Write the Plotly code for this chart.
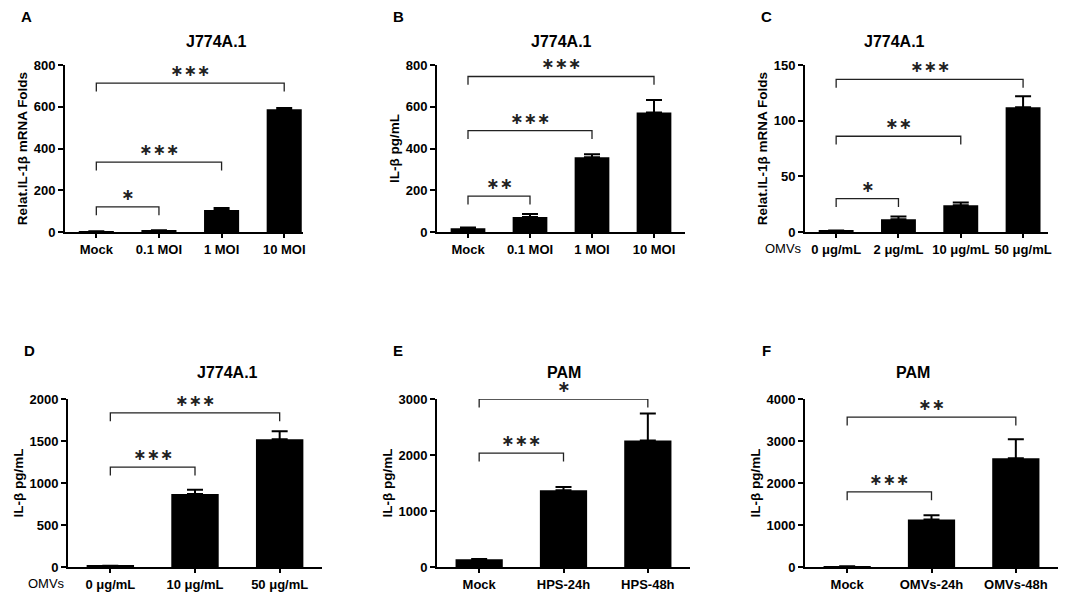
import plotly.graph_objects as go
from plotly.subplots import make_subplots

# Panel A - J774A.1, IL-1b mRNA after infection
a_cats = ['Mock', '0.1 MOI', '1 MOI', '10 MOI']
a_vals = [2, 6, 105, 588]
a_errs = [1, 2, 10, 6]

# Panel B - J774A.1, IL-b secretion after infection
b_cats = ['Mock', '0.1 MOI', '1 MOI', '10 MOI']
b_vals = [18, 72, 358, 572]
b_errs = [3, 14, 14, 60]

# Panel C - J774A.1, IL-1b mRNA after OMVs
c_cats = ['0 μg/mL', '2 μg/mL', '10 μg/mL', '50 μg/mL']
c_vals = [1, 11.5, 24, 112]
c_errs = [0.3, 2.5, 2.5, 10]

# Panel D - J774A.1, IL-b secretion after OMVs
d_cats = ['0 μg/mL', '10 μg/mL', '50 μg/mL']
d_vals = [12, 870, 1520]
d_errs = [3, 50, 95]

# Panel E - PAM, HPS infection
e_cats = ['Mock', 'HPS-24h', 'HPS-48h']
e_vals = [140, 1370, 2260]
e_errs = [5, 60, 480]

# Panel F - PAM, OMVs
f_cats = ['Mock', 'OMVs-24h', 'OMVs-48h']
f_vals = [15, 1130, 2590]
f_errs = [3, 100, 450]

# significance brackets: (from, to, height, label)
a_sig = [(0, 1, 120, '∗'), (0, 2, 335, '∗∗∗'), (0, 3, 713, '∗∗∗')]
b_sig = [(0, 1, 172, '∗∗'), (0, 2, 486, '∗∗∗'), (0, 3, 745, '∗∗∗')]
c_sig = [(0, 1, 30, '∗'), (0, 2, 86, '∗∗'), (0, 3, 137, '∗∗∗')]
d_sig = [(0, 1, 1190, '∗∗∗'), (0, 2, 1835, '∗∗∗')]
e_sig = [(0, 1, 2035, '∗∗∗'), (0, 2, 3000, '∗')]
f_sig = [(0, 1, 1790, '∗∗∗'), (0, 2, 3570, '∗∗')]

panels = [
    dict(letter='A', title='J774A.1', ytitle='Relat.IL-1β mRNA Folds',
         cats=a_cats, vals=a_vals, errs=a_errs, sig=a_sig,
         yrange=[0, 800], dtick=200, xrange=[-0.5, 3.3], omvs=False),
    dict(letter='B', title='J774A.1', ytitle='IL-β pg/mL',
         cats=b_cats, vals=b_vals, errs=b_errs, sig=b_sig,
         yrange=[0, 800], dtick=200, xrange=[-0.5, 3.5], omvs=False),
    dict(letter='C', title='J774A.1', ytitle='Relat.IL-1β mRNA Folds',
         cats=c_cats, vals=c_vals, errs=c_errs, sig=c_sig,
         yrange=[0, 150], dtick=50, xrange=[-0.5, 3.4], omvs=True),
    dict(letter='D', title='J774A.1', ytitle='IL-β pg/mL',
         cats=d_cats, vals=d_vals, errs=d_errs, sig=d_sig,
         yrange=[0, 2000], dtick=500, xrange=[-0.5, 2.5], omvs=True),
    dict(letter='E', title='PAM', ytitle='IL-β pg/mL',
         cats=e_cats, vals=e_vals, errs=e_errs, sig=e_sig,
         yrange=[0, 3000], dtick=1000, xrange=[-0.5, 2.5], omvs=False),
    dict(letter='F', title='PAM', ytitle='IL-β pg/mL',
         cats=f_cats, vals=f_vals, errs=f_errs, sig=f_sig,
         yrange=[0, 4000], dtick=1000, xrange=[-0.5, 2.5], omvs=False),
]

# plot boxes in page pixels: (left, right, top, bottom)
boxes = [
    (65, 303, 65, 232), (437, 685, 65, 232), (805, 1048, 65, 232),
    (68, 322, 399, 567), (437, 690, 399, 567), (805, 1058, 399, 567),
]

# the page body has an 8px margin, so the figure starts at (8, 8)
W, H, OFF = 1068, 588, 8


def px_x(px):
    return (px - OFF) / W


def px_y(py):
    return 1 - (py - OFF) / H


FONT = 'Liberation Sans'

fig = make_subplots(rows=2, cols=3)

annotations = []
for i, p in enumerate(panels):
    row, col = i // 3 + 1, i % 3 + 1
    left, right, top, bottom = boxes[i]
    n = len(p['cats'])
    xs = list(range(n))
    suffix = str(i + 1) if i else ''
    fig.add_trace(go.Bar(
        x=xs, y=p['vals'], width=0.56,
        marker=dict(color='black', line=dict(width=0)),
        error_y=dict(type='data', symmetric=False, array=p['errs'],
                     arrayminus=[0] * n, color='black',
                     thickness=2, width=8),
        showlegend=False,
    ), row=row, col=col)

    # brackets
    span = p['yrange'][1] - p['yrange'][0]
    drop = span * 0.05
    for x0, x1, h, lab in p['sig']:
        fig.add_trace(go.Scatter(
            x=[x0, x0, x1, x1], y=[h - drop, h, h, h - drop],
            mode='lines', line=dict(color='#222', width=1.3),
            cliponaxis=False, hoverinfo='skip', showlegend=False,
        ), row=row, col=col)
        annotations.append(dict(
            x=(x0 + x1) / 2, y=h, xref='x' + suffix, yref='y' + suffix,
            text=lab, showarrow=False, yanchor='bottom', yshift=1,
            font=dict(family='DejaVu Sans', size=16, color='#222',
                      weight='bold'),
        ))

    fig.update_layout({
        f'xaxis{suffix}': dict(
            domain=[px_x(left), px_x(right)], range=p['xrange'],
            automargin=False,
            tickmode='array', tickvals=xs, ticktext=p['cats'],
            showline=True, linecolor='black', linewidth=2,
            ticks='outside', ticklen=4, tickwidth=2, tickcolor='black',
            showgrid=False, zeroline=False,
            tickfont=dict(family=FONT, size=13, color='black',
                          weight='bold'),
        ),
        f'yaxis{suffix}': dict(
            domain=[px_y(bottom), px_y(top)], range=p['yrange'],
            dtick=p['dtick'], automargin=False,
            showline=True, linecolor='black', linewidth=2,
            ticks='outside', ticklen=5, tickwidth=2, tickcolor='black',
            showgrid=False, zeroline=False,
            tickfont=dict(family=FONT, size=13, color='black',
                          weight='bold'),
            title=dict(text=p['ytitle'], standoff=3,
                       font=dict(family=FONT, size=13.5, color='black',
                                 weight='bold')),
        ),
    })

    # title and panel letter
    annotations.append(dict(
        x=px_x((left + right) / 2),
        y=px_y(top - (23 if i < 3 else 27)),
        xref='paper', yref='paper',
        text=p['title'], showarrow=False, yanchor='middle',
        font=dict(family=FONT, size=16, color='black', weight='bold'),
    ))
    annotations.append(dict(
        x=px_x(left - 39), y=px_y(top - 49),
        xref='paper', yref='paper', text=p['letter'], showarrow=False,
        xanchor='center', yanchor='middle',
        font=dict(family=FONT, size=15, color='black', weight='bold'),
    ))
    if p['omvs']:
        annotations.append(dict(
            x=px_x(left - 1), y=px_y(bottom + 16),
            xref='paper', yref='paper', text='OMVs', showarrow=False,
            xanchor='right', yanchor='middle',
            font=dict(family=FONT, size=13, color='black'),
        ))

fig.update_layout(
    width=W, height=H,
    margin=dict(l=0, r=0, t=0, b=0),
    paper_bgcolor='white', plot_bgcolor='white',
    annotations=annotations,
)

fig.write_html('out.html')
